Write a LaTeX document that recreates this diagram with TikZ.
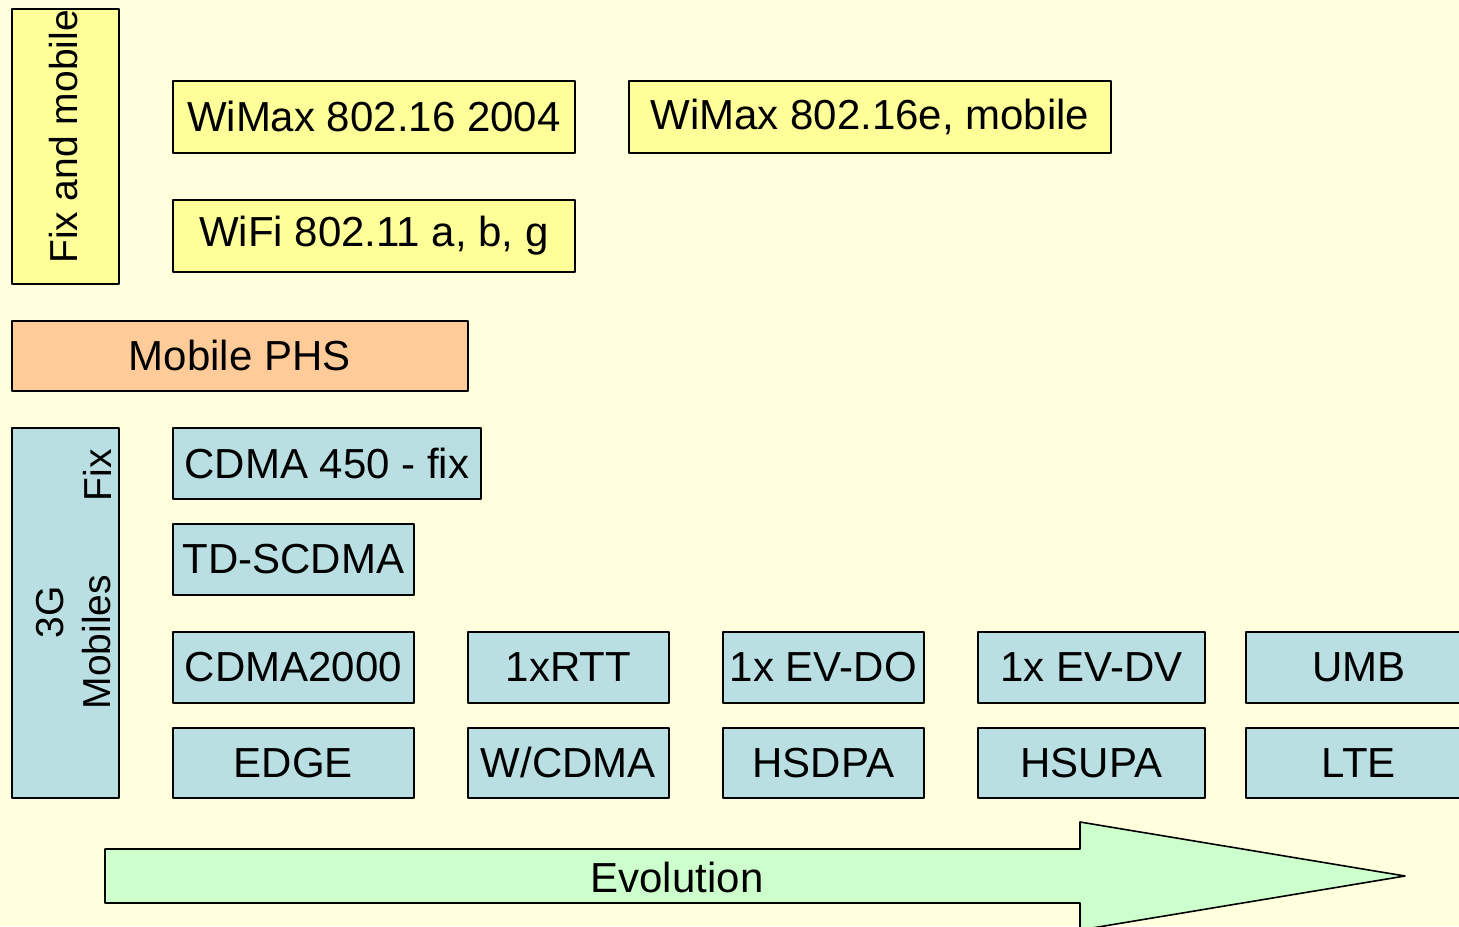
\documentclass[tikz,border=0pt]{standalone}
\usepackage{fontspec}
\setmainfont{Liberation Sans}
\definecolor{bgcol}{RGB}{255,255,222}
\definecolor{yelcol}{RGB}{255,255,153}
\definecolor{orgcol}{RGB}{255,204,153}
\definecolor{blucol}{RGB}{185,223,227}
\definecolor{grncol}{RGB}{204,255,204}
\tikzset{
  box/.style={draw=black, line width=0.8pt, inner sep=0pt, anchor=north west, font=\fontsize{21}{25}\selectfont},
  yel/.style={box, fill=yelcol},
  blu/.style={box, fill=blucol},
  vlab/.style={rotate=90, inner sep=0pt, font=\fontsize{19.5}{22}\selectfont}
}
\begin{document}
\begin{tikzpicture}[x=0.5pt, y=-0.5pt, line join=round]
\useasboundingbox (0,0) rectangle (1459,926);
\fill[bgcol] (0,0) rectangle (1459,926);
\clip (0,0) rectangle (1459,926);
% fix and mobile
\node (fixmob) [yel, minimum width=53.5pt, minimum height=137.5pt] at (11,8) {};
\node (fixmobtxt) [vlab] at (64,137) {Fix and mobile};
\node (wimax) [yel, minimum width=201pt, minimum height=36pt] at (172,80) {WiMax 802.16 2004};
\node (wimaxe) [yel, minimum width=241pt, minimum height=36pt] at (628,80) {WiMax 802.16e, mobile};
\node (wifi) [yel, minimum width=201pt, minimum height=36pt] at (172,199) {WiFi 802.11 a, b, g};
% PHS
\node (phs) [box, fill=orgcol, minimum width=228pt, minimum height=35pt] at (11,320) {Mobile PHS};
% 3G
\node (tg) [blu, minimum width=53.5pt, minimum height=185pt] at (11,427) {};
\node (tgtxt) [vlab] at (50,612) {3G};
\node (mobtxt) [vlab] at (97,642) {Mobiles};
\node (fixtxt) [vlab] at (97,475) {Fix};
\node (cdmafix) [blu, minimum width=154pt, minimum height=35.5pt] at (172,427) {CDMA 450 - fix};
\node (tdscdma) [blu, minimum width=120.5pt, minimum height=35.5pt] at (172,523) {TD-SCDMA};
\foreach \x/\w/\nm/\t in {172/241/cdmak/CDMA2000, 467/201/rtt/1xRTT, 722/201/evdo/1x EV-DO, 977/227/evdv/1x EV-DV, 1245/226/umb/UMB}
  \node (\nm) [blu, minimum width=\w*0.5pt, minimum height=35.5pt] at (\x,631) {\t};
\foreach \x/\w/\nm/\t in {172/241/edge/EDGE, 467/201/wcdma/{W/CDMA}, 722/201/hsdpa/HSDPA, 977/227/hsupa/HSUPA, 1245/226/lte/LTE}
  \node (\nm) [blu, minimum width=\w*0.5pt, minimum height=35pt] at (\x,727) {\t};
% evolution arrow
\draw[fill=grncol, line width=0.8pt] (105,849)--(1080,849)--(1080,822)--(1405,876)--(1080,930)--(1080,903)--(105,903)--cycle;
\node (evo) [font=\fontsize{21}{25}\selectfont, inner sep=0pt] at (677,877) {Evolution};
\end{tikzpicture}
\end{document}
